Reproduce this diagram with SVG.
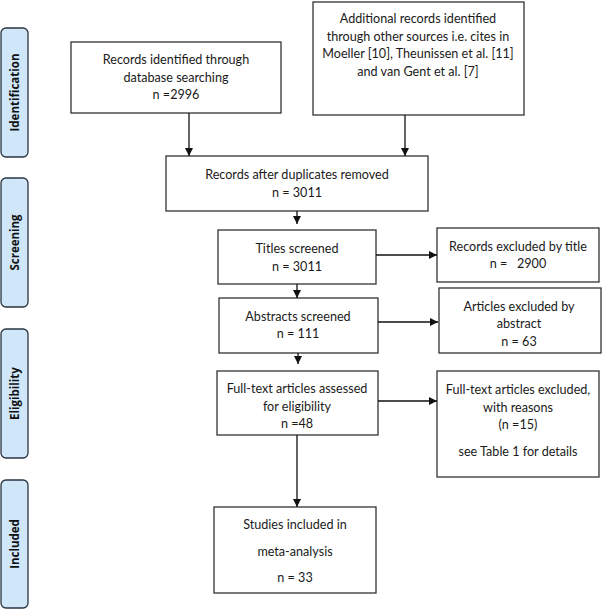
<svg xmlns="http://www.w3.org/2000/svg" width="602" height="610" viewBox="0 0 602 610">
<defs>
<marker id="ah" viewBox="0 0 10 10" refX="10" refY="5" markerWidth="8" markerHeight="8" markerUnits="userSpaceOnUse" orient="auto">
<path d="M0,0 L10,5 L0,10 z" fill="#111"/>
</marker>
</defs>
<style>
.box{fill:#fff;stroke:#333;stroke-width:1.3}
.side{fill:#cfe7f8;stroke:#2a3440;stroke-width:1.3}
.t{font-family:Lato,"Liberation Sans",sans-serif;font-size:12.6px;fill:#1a1a1a;text-anchor:middle}
.s{font-family:"Open Sans","Liberation Sans",sans-serif;font-size:11.5px;font-weight:bold;fill:#111;text-anchor:middle}
.c{stroke:#111;stroke-width:1.3;fill:none;marker-end:url(#ah)}
</style>
<rect width="602" height="610" fill="#fff"/>
<g id="side-identification"><rect class="side" x="1" y="28" width="27" height="129" rx="5"/><text class="s" transform="translate(18.5,92.5) rotate(-90)">Identification</text></g>
<g id="side-screening"><rect class="side" x="1" y="178" width="27" height="129" rx="5"/><text class="s" transform="translate(18.5,242.5) rotate(-90)">Screening</text></g>
<g id="side-eligibility"><rect class="side" x="1" y="329" width="27" height="129" rx="5"/><text class="s" transform="translate(18.5,393.5) rotate(-90)">Eligibility</text></g>
<g id="side-included"><rect class="side" x="1" y="480" width="27" height="128" rx="5"/><text class="s" transform="translate(18.5,544) rotate(-90)">Included</text></g>

<g id="n1"><rect class="box" x="71" y="42" width="210" height="71"/>
<text class="t" x="176" y="63.5">Records identified through</text>
<text class="t" x="176" y="81.5">database searching</text>
<text class="t" x="176" y="98.5">n =2996</text></g>

<g id="n2"><rect class="box" x="313" y="2" width="211" height="113"/>
<text class="t" x="418" y="22.5">Additional records identified</text>
<text class="t" x="418" y="40.5">through other sources i.e. cites in</text>
<text class="t" x="418" y="57.5">Moeller [10], Theunissen et al. [11]</text>
<text class="t" x="418" y="75.5">and van Gent et al. [7]</text></g>

<g id="n3"><rect class="box" x="166" y="156" width="262" height="55"/>
<text class="t" x="297" y="178.5">Records after duplicates removed</text>
<text class="t" x="297" y="196.5">n = 3011</text></g>

<g id="n4"><rect class="box" x="218" y="230" width="158" height="54"/>
<text class="t" x="297" y="252.5">Titles screened</text>
<text class="t" x="297" y="270.5">n = 3011</text></g>

<g id="n5"><rect class="box" x="437" y="228" width="162" height="54"/>
<text class="t" x="518" y="250.5">Records excluded by title</text>
<text class="t" x="518" y="267.5" xml:space="preserve">n =   2900</text></g>

<g id="n6"><rect class="box" x="219" y="298" width="159" height="55"/>
<text class="t" x="298" y="320.5">Abstracts screened</text>
<text class="t" x="298" y="337.5">n = 111</text></g>

<g id="n7"><rect class="box" x="439" y="288" width="162" height="65"/>
<text class="t" x="519" y="310.5">Articles excluded by</text>
<text class="t" x="519" y="327.5">abstract</text>
<text class="t" x="519" y="345.5">n = 63</text></g>

<g id="n8"><rect class="box" x="217" y="371" width="161" height="64"/>
<text class="t" x="297" y="392.5">Full-text articles assessed</text>
<text class="t" x="297" y="410.5">for eligibility</text>
<text class="t" x="297" y="427.5">n =48</text></g>

<g id="n9"><rect class="box" x="437" y="371" width="162" height="106"/>
<text class="t" x="518" y="393.5">Full-text articles excluded,</text>
<text class="t" x="518" y="411.5">with reasons</text>
<text class="t" x="518" y="428.5">(n =15)</text>
<text class="t" x="518" y="455.5">see Table 1 for details</text></g>

<g id="n10"><rect class="box" x="214" y="507" width="162" height="86"/>
<text class="t" x="295" y="528.5">Studies included in</text>
<text class="t" x="295" y="555.5">meta-analysis</text>
<text class="t" x="295" y="581.5">n = 33</text></g>

<g id="connectors">
<line class="c" x1="189" y1="113" x2="189" y2="156"/>
<line class="c" x1="405" y1="115" x2="405" y2="156"/>
<line class="c" x1="297" y1="211" x2="297" y2="224"/>
<line class="c" x1="376" y1="255" x2="437" y2="255"/>
<line class="c" x1="297" y1="284" x2="297" y2="298"/>
<line class="c" x1="378" y1="322" x2="438" y2="322"/>
<line class="c" x1="298" y1="353" x2="298" y2="364"/>
<line class="c" x1="378" y1="401" x2="437" y2="401"/>
<line class="c" x1="297" y1="435" x2="297" y2="507"/>
</g>
</svg>
